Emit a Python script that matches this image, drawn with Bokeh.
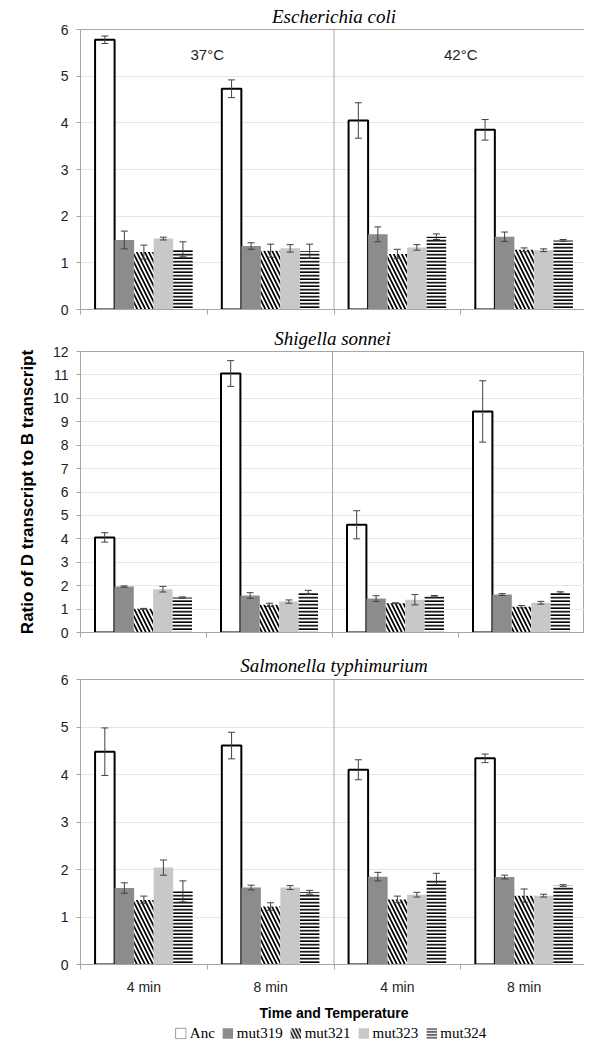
from bokeh.plotting import figure
from bokeh.models import (ColumnDataSource, Whisker, TeeHead, FixedTicker, Span, Label,
                          Legend, LegendItem, Range1d)
from bokeh.layouts import column
from bokeh.embed import file_html
from bokeh.resources import INLINE

# ---------------- data ----------------
time_labels = ["4 min", "8 min", "4 min", "8 min"]
temperature_labels = ["37°C", "42°C"]
strains = ["Anc", "mut319", "mut321", "mut323", "mut324"]
species = ["Escherichia coli", "Shigella sonnei", "Salmonella typhimurium"]

# rows: strains (Anc, mut319, mut321, mut323, mut324); columns: 37°C 4 min, 37°C 8 min, 42°C 4 min, 42°C 8 min
ecoli_means = [[5.78, 4.73, 4.05, 3.85],
               [1.49, 1.36, 1.61, 1.56],
               [1.23, 1.26, 1.19, 1.28],
               [1.52, 1.31, 1.33, 1.27],
               [1.29, 1.25, 1.56, 1.48]]
ecoli_errs = [[0.08, 0.19, 0.38, 0.22],
              [0.19, 0.07, 0.16, 0.10],
              [0.15, 0.14, 0.10, 0.04],
              [0.03, 0.08, 0.06, 0.03],
              [0.16, 0.15, 0.06, 0.02]]

shigella_means = [[4.06, 11.06, 4.60, 9.44],
                  [1.96, 1.58, 1.45, 1.62],
                  [1.01, 1.18, 1.25, 1.10],
                  [1.85, 1.32, 1.40, 1.27],
                  [1.49, 1.72, 1.55, 1.71]]
shigella_errs = [[0.20, 0.55, 0.60, 1.31],
                 [0.03, 0.12, 0.12, 0.04],
                 [0.02, 0.07, 0.02, 0.05],
                 [0.12, 0.07, 0.22, 0.06],
                 [0.03, 0.08, 0.03, 0.03]]

salmonella_means = [[4.48, 4.61, 4.10, 4.34],
                    [1.61, 1.62, 1.85, 1.84],
                    [1.36, 1.22, 1.37, 1.45],
                    [2.04, 1.62, 1.47, 1.45],
                    [1.54, 1.52, 1.80, 1.66]]
salmonella_errs = [[0.50, 0.28, 0.21, 0.09],
                   [0.11, 0.05, 0.09, 0.04],
                   [0.08, 0.08, 0.07, 0.14],
                   [0.16, 0.04, 0.05, 0.03],
                   [0.22, 0.04, 0.12, 0.02]]

# ---------------- styles ----------------
BW = 0.154
AXIS_GRAY = "#a6a6a6"
GRID_GRAY = "#e6e6e6"
ERR_COLOR = "#404040"
TICK_FONT = "Liberation Sans"

styles = {
    "Anc": dict(fill_color="white", line_color="black", line_width=2),
    "mut319": dict(fill_color="#8c8c8c", line_color=None),
    "mut321": dict(fill_color="white", line_color=None, hatch_pattern="left_diagonal_line",
                   hatch_color="black", hatch_weight=1.7, hatch_scale=8),
    "mut323": dict(fill_color="#c8c8c8", line_color=None),
    "mut324": dict(fill_color="white", line_color=None, hatch_pattern="horizontal_line",
                   hatch_color="black", hatch_weight=1.7, hatch_scale=3.5),
}
legend_styles = dict(styles)
legend_styles["Anc"] = dict(fill_color="white", line_color="#999999", line_width=1)
legend_styles["mut321"] = dict(fill_color="white", line_color=None, hatch_pattern="left_diagonal_line",
                               hatch_color="black", hatch_weight=1.6, hatch_scale=7)
legend_styles["mut324"] = dict(fill_color="white", line_color=None, hatch_pattern="horizontal_line",
                               hatch_color="black", hatch_weight=1.4, hatch_scale=3)


def panel(title, means, errs, ymax, frame_w, frame_h, left, right, top, bottom,
          title_standoff, bottom_panel=False, ylabel=None, temps=False):
    p = figure(frame_width=frame_w, frame_height=frame_h,
               x_range=Range1d(0, 4), y_range=Range1d(0, ymax),
               output_backend="svg", toolbar_location=None,
               min_border_left=left, min_border_right=right,
               min_border_top=top, min_border_bottom=bottom)
    p.title.text = title
    p.title.text_font = "Liberation Serif"
    p.title.text_font_style = "italic"
    p.title.text_font_size = "19px"
    p.title.text_color = "black"
    p.title.align = "center"
    p.title.standoff = title_standoff
    p.outline_line_color = AXIS_GRAY
    p.background_fill_color = "white"
    p.border_fill_color = "white"

    p.xgrid.visible = False
    p.ygrid.grid_line_color = GRID_GRAY
    p.ygrid.ticker = FixedTicker(ticks=list(range(0, ymax + 1)))

    p.yaxis.ticker = FixedTicker(ticks=list(range(0, ymax + 1)))
    p.yaxis.axis_line_color = AXIS_GRAY
    p.yaxis.major_tick_line_color = AXIS_GRAY
    p.yaxis.major_tick_out = 4
    p.yaxis.major_tick_in = 0
    p.yaxis.minor_tick_line_color = None
    p.yaxis.major_label_standoff = 8
    p.yaxis.major_label_text_font = TICK_FONT
    p.yaxis.major_label_text_font_size = "14px"
    p.yaxis.major_label_text_color = "#222222"

    xa = p.xaxis[0]
    xa.axis_line_color = AXIS_GRAY
    xa.major_tick_line_color = None
    xa.major_tick_out = 0
    xa.major_tick_in = 0
    xa.minor_tick_line_color = AXIS_GRAY
    xa.minor_tick_out = 5
    xa.minor_tick_in = 0
    if bottom_panel:
        xa.ticker = FixedTicker(ticks=[0.5, 1.5, 2.5, 3.5], minor_ticks=[0, 1, 2, 3, 4])
        xa.major_label_overrides = {0.5: time_labels[0], 1.5: time_labels[1],
                                    2.5: time_labels[2], 3.5: time_labels[3]}
        xa.major_label_text_font = TICK_FONT
        xa.major_label_text_font_size = "14px"
        xa.major_label_text_color = "#222222"
        xa.major_label_standoff = 9
        xa.axis_label = "Time and Temperature"
        xa.axis_label_text_font = TICK_FONT
        xa.axis_label_text_font_style = "bold"
        xa.axis_label_text_font_size = "14px"
        xa.axis_label_text_color = "black"
        xa.axis_label_standoff = 7
    else:
        xa.ticker = FixedTicker(ticks=[], minor_ticks=[0, 1, 2, 3, 4])

    if ylabel:
        p.yaxis.axis_label = ylabel
        p.yaxis.axis_label_text_font = TICK_FONT
        p.yaxis.axis_label_text_font_style = "bold"
        p.yaxis.axis_label_text_font_size = "17px"
        p.yaxis.axis_label_text_color = "black"
        p.yaxis.axis_label_standoff = 13

    p.add_layout(Span(location=2, dimension="height", line_color=AXIS_GRAY, line_width=1))

    sources = []
    for k, s in enumerate(strains):
        xs = [g + 0.5 + (k - 2) * BW for g in range(4)]
        src = ColumnDataSource(dict(
            x=xs, top=means[k],
            upper=[m + e for m, e in zip(means[k], errs[k])],
            lower=[m - e for m, e in zip(means[k], errs[k])]))
        p.vbar(x="x", top="top", bottom=0, width=BW, source=src, **styles[s])
        sources.append(src)
    for src in sources:
        p.add_layout(Whisker(source=src, base="x", upper="upper", lower="lower",
                             line_color=ERR_COLOR, line_width=1, level="annotation",
                             upper_head=TeeHead(size=7, line_color=ERR_COLOR, line_width=1),
                             lower_head=TeeHead(size=7, line_color=ERR_COLOR, line_width=1)))

    if temps:
        for i, t in enumerate(temperature_labels):
            p.add_layout(Label(x=1 + 2 * i, y=ymax * 0.91, text=t, text_align="center",
                               text_baseline="middle", text_font=TICK_FONT,
                               text_font_size="15px", text_color="#222222"))
    return p


p1 = panel(species[0], ecoli_means, ecoli_errs, 6, 507, 280, 73, 4, 24, 13, 6, temps=True)
p2 = panel(species[1], shigella_means, shigella_errs, 12, 504, 281, 78, 2, 26, 16, 6,
           ylabel="Ratio of D transcript to B transcript")
p3 = panel(species[2], salmonella_means, salmonella_errs, 6, 507, 285, 74, 3, 31, 56, 8,
           bottom_panel=True)

# legend strip (legend swatches only; one placeholder row per strain, outside the visible range)
pl = figure(width=584, height=19, x_range=Range1d(0, 1), y_range=Range1d(0, 1),
            output_backend="svg", toolbar_location=None,
            min_border_left=80, min_border_right=3, min_border_top=0, min_border_bottom=0)
pl.axis.visible = False
pl.grid.visible = False
pl.outline_line_color = None
items = []
for s in strains:
    swatch = pl.vbar(x=[-5], top=[-5], bottom=-6, width=0.1, **legend_styles[s])
    items.append(LegendItem(label=s, renderers=[swatch]))
legend = Legend(items=items, orientation="horizontal", location="center",
                label_text_font="Liberation Serif", label_text_font_size="15px",
                label_text_color="black", glyph_width=13, glyph_height=13,
                label_standoff=3, spacing=6, padding=1, margin=0,
                border_line_color=None, background_fill_alpha=0)
pl.add_layout(legend, "center")

layout = column(p1, p2, p3, pl, spacing=0)
open("out.html", "w").write(file_html(layout, INLINE))
